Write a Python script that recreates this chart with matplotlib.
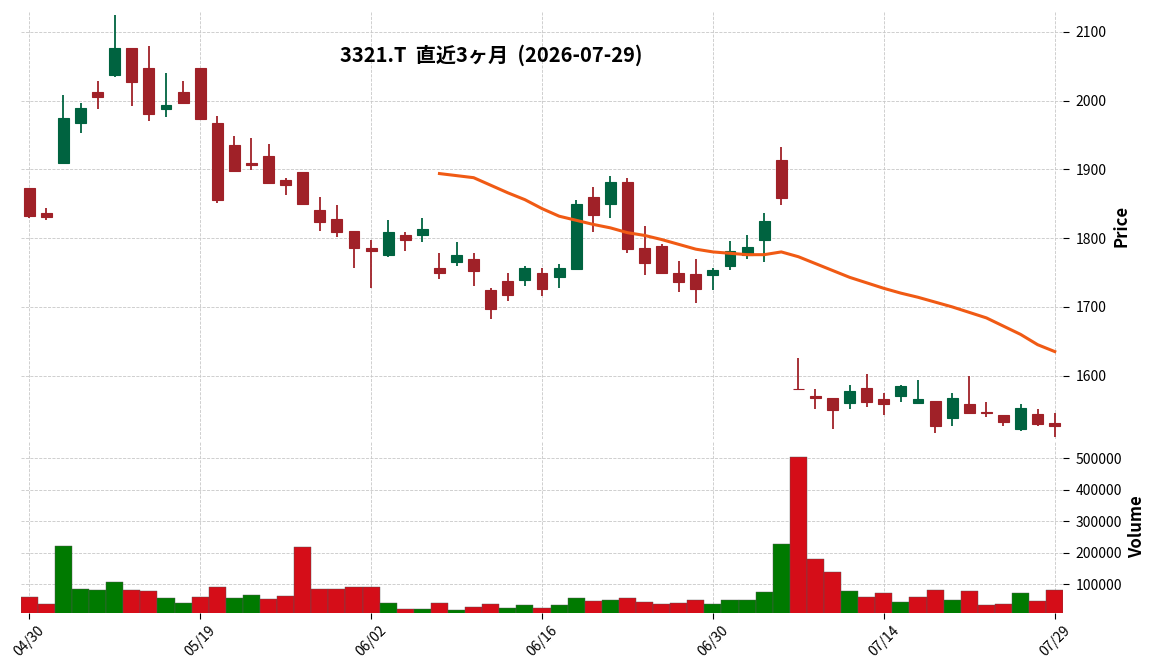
import numpy as np
import matplotlib
matplotlib.use('Agg')
import matplotlib.pyplot as plt

plt.rcParams['font.family'] = ['Noto Sans CJK JP', 'DejaVu Sans']

# trading days (2026)
dates = ['04/30', '05/01', '05/07', '05/08', '05/11', '05/12', '05/13', '05/14', '05/15', '05/18',
         '05/19', '05/20', '05/21', '05/22', '05/25', '05/26', '05/27', '05/28', '05/29', '06/01',
         '06/02', '06/03', '06/04', '06/05', '06/08', '06/09', '06/10', '06/11', '06/12', '06/15',
         '06/16', '06/17', '06/18', '06/19', '06/22', '06/23', '06/24', '06/25', '06/26', '06/29',
         '06/30', '07/01', '07/02', '07/03', '07/06', '07/07', '07/08', '07/09', '07/10', '07/13',
         '07/14', '07/15', '07/16', '07/17', '07/21', '07/22', '07/23', '07/24', '07/27', '07/28',
         '07/29']

opens = [1873, 1837, 1910, 1967, 2013, 2038, 2076, 2048, 1988, 2013,
         2047, 1968, 1936, 1910, 1920, 1885, 1897, 1841, 1828, 1810,
         1786, 1775, 1804, 1805, 1757, 1766, 1769, 1724, 1737, 1739,
         1750, 1744, 1755, 1860, 1849, 1882, 1785, 1788, 1750, 1748,
         1747, 1760, 1776, 1797, 1914, 1581, 1571, 1567, 1560, 1582,
         1566, 1571, 1560, 1563, 1539, 1558, 1547, 1543, 1522, 1544,
         1531]
highs = [1873, 1844, 2008, 1997, 2029, 2125, 2076, 2079, 2040, 2028,
         2047, 1978, 1949, 1946, 1937, 1888, 1897, 1860, 1848, 1810,
         1797, 1826, 1809, 1830, 1779, 1794, 1779, 1727, 1749, 1760,
         1756, 1763, 1856, 1874, 1890, 1888, 1817, 1792, 1767, 1769,
         1756, 1796, 1804, 1836, 1933, 1626, 1581, 1567, 1587, 1603,
         1575, 1586, 1594, 1563, 1574, 1600, 1562, 1543, 1558, 1551,
         1545]
lows = [1830, 1826, 1908, 1953, 1988, 2034, 1993, 1971, 1976, 1996,
        1972, 1851, 1898, 1899, 1880, 1863, 1849, 1810, 1801, 1757,
        1727, 1773, 1782, 1795, 1740, 1760, 1730, 1683, 1708, 1730,
        1716, 1727, 1755, 1809, 1830, 1779, 1747, 1750, 1721, 1706,
        1725, 1754, 1770, 1765, 1848, 1580, 1552, 1523, 1552, 1555,
        1543, 1562, 1560, 1516, 1527, 1546, 1540, 1526, 1519, 1527,
        1510]
closes = [1832, 1831, 1975, 1989, 2006, 2076, 2027, 1981, 1994, 1996,
          1973, 1856, 1898, 1906, 1880, 1877, 1850, 1824, 1809, 1785,
          1782, 1809, 1798, 1813, 1750, 1775, 1752, 1697, 1717, 1756,
          1726, 1756, 1850, 1834, 1882, 1784, 1764, 1750, 1736, 1726,
          1753, 1781, 1787, 1825, 1859, 1580, 1568, 1550, 1577, 1562,
          1559, 1585, 1566, 1527, 1567, 1546, 1545, 1533, 1553, 1529,
          1527]
volumes = [59700, 37500, 221600, 85000, 82000, 107000, 82000, 78800, 56500, 40600,
           59700, 91500, 56500, 66000, 53300, 62800, 218500, 85000, 85000, 91500,
           91500, 40600, 21500, 21500, 40600, 18400, 27900, 37500, 24700, 34300,
           24700, 34300, 56500, 47000, 50100, 56500, 43700, 37500, 40600, 50100,
           37500, 50100, 50100, 75500, 228000, 504500, 180000, 139000, 78800, 59700,
           72400, 43700, 59700, 82000, 50100, 78800, 34300, 37500, 72400, 47000,
           82000]
# 25-day moving average, shown from the 25th session
ma_start = 24
ma25 = [1894, 1891, 1888, 1877, 1866, 1856, 1843, 1832, 1826, 1820,
        1815, 1808, 1804, 1798, 1791, 1784, 1780, 1778, 1776, 1776,
        1780, 1773, 1763, 1753, 1743, 1735, 1727, 1720, 1714, 1707,
        1700, 1692, 1684, 1672, 1660, 1645, 1635]

title = '3321.T  直近3ヶ月  (2026-07-29)'

UP, DOWN = '#006340', '#A02128'
VUP, VDOWN = '#007a00', '#d50d18'
GRID = dict(color='#c8c8c8', linestyle='--', linewidth=0.6)

x = np.arange(len(dates))
o, h, l, c = map(np.array, (opens, highs, lows, closes))

fig = plt.figure(figsize=(11.52, 6.70), dpi=100)
ax = fig.add_axes([0.018, 0.345, 0.905, 0.637])
axv = fig.add_axes([0.018, 0.085, 0.905, 0.257], sharex=ax)

# candles
ccol = np.where(c >= o, UP, DOWN)
ax.vlines(x, l, h, colors=ccol, linewidth=1.3, zorder=2)
ax.bar(x, np.abs(c - o), bottom=np.minimum(o, c), width=0.64,
       color=ccol, edgecolor=ccol, linewidth=0.8, zorder=3)
ax.plot(x[ma_start:], ma25, color='#f05a14', linewidth=2.2, zorder=4)

# volume (colored vs previous close)
prev = np.r_[o[0], c[:-1]]
vcol = np.where(c > prev, VUP, VDOWN)
axv.bar(x, volumes, width=1.0, color=vcol, edgecolor='#555555', linewidth=0.3)

for a in (ax, axv):
    for s in a.spines.values():
        s.set_visible(False)
    a.grid(True, **GRID)
    a.set_axisbelow(True)
    a.yaxis.tick_right()
    a.yaxis.set_label_position('right')
    a.tick_params(axis='y', length=4, labelsize=10, colors='black', pad=5)

ax.set_xlim(-0.5, len(dates) - 0.5)
ax.set_ylim(1508, 2129)
ax.set_yticks([1600, 1700, 1800, 1900, 2000, 2100])
ax.tick_params(axis='x', length=0, labelbottom=False)
ax.set_ylabel('Price', fontsize=12, fontweight='bold', labelpad=4)

axv.set_ylim(8000, 555000)
axv.set_yticks([100000, 200000, 300000, 400000, 500000])
axv.set_yticklabels(['100000', '200000', '300000', '400000', '500000'])
tick_idx = list(range(0, len(dates), 10))
axv.set_xticks(tick_idx)
axv.set_xticklabels([dates[i] for i in tick_idx], rotation=45, fontsize=10)
axv.tick_params(axis='x', length=4)
axv.set_ylabel('Volume', fontsize=12, fontweight='bold', labelpad=4)

fig.text(0.426, 0.918, title, fontsize=14.5, fontweight='bold', ha='center', va='center')

fig.savefig('out.png', dpi=100)
